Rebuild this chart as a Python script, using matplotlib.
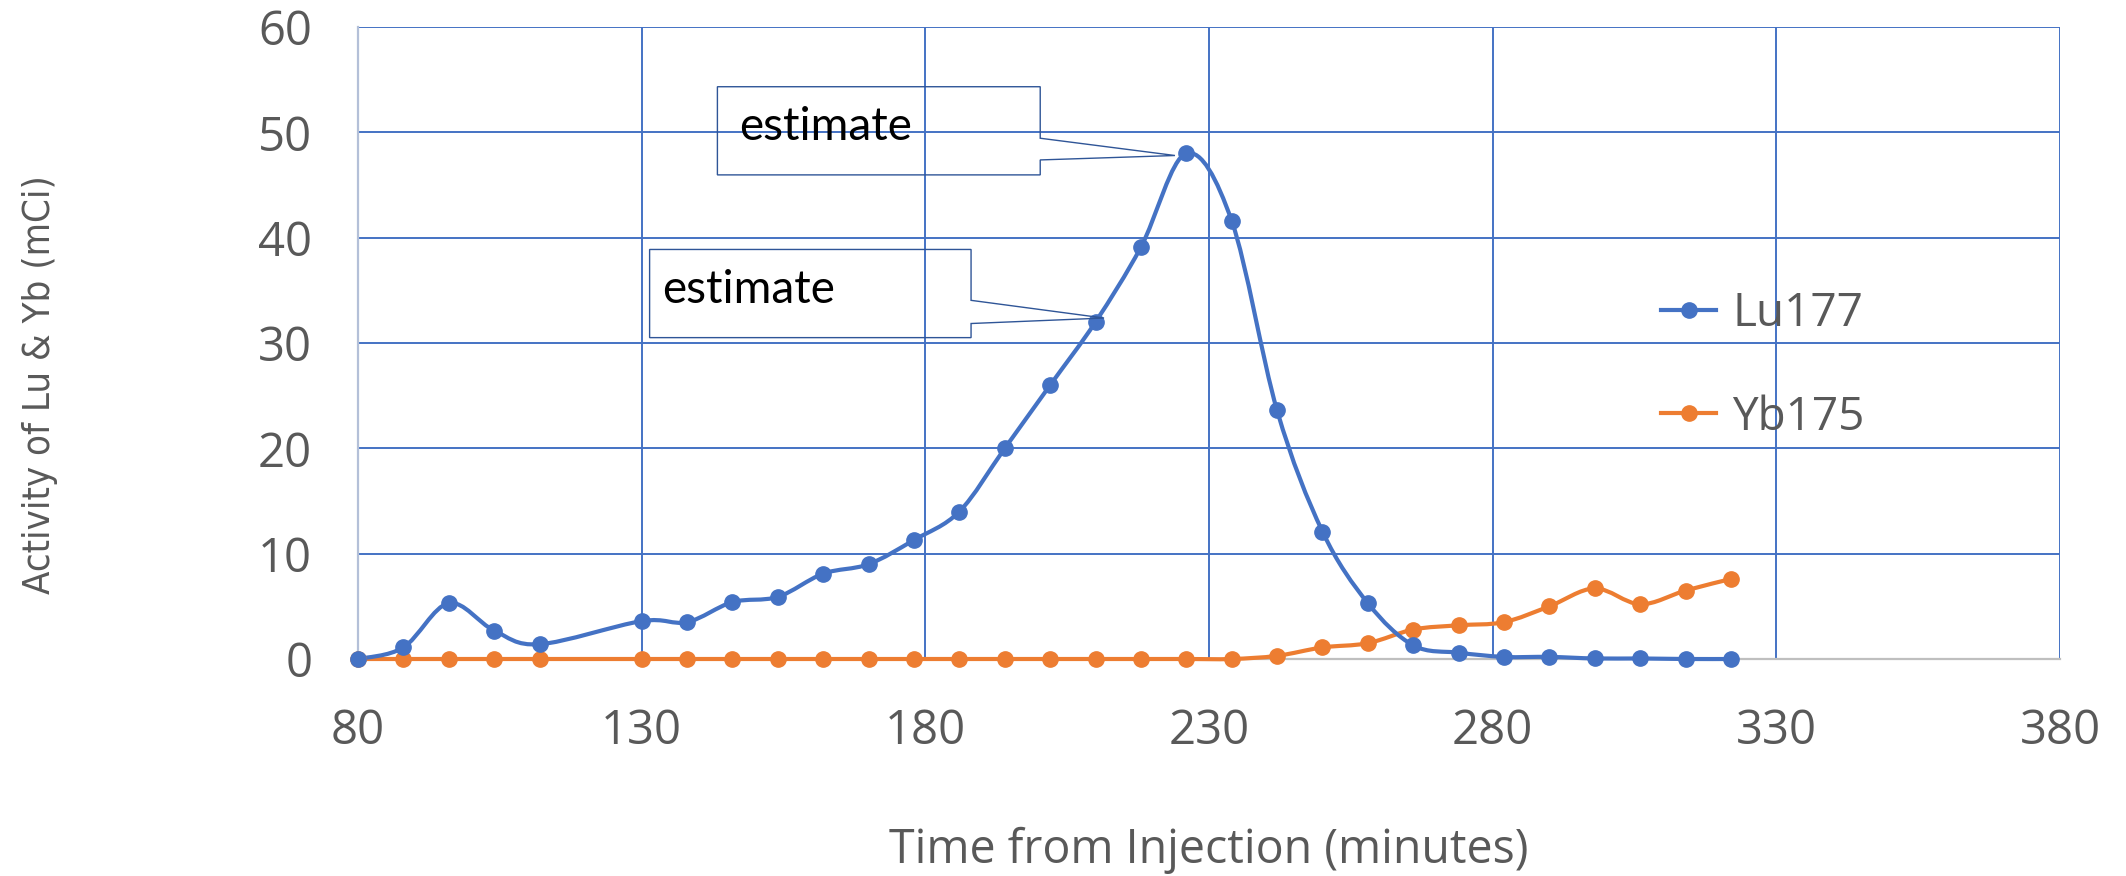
import matplotlib; matplotlib.use("Agg")
import matplotlib.pyplot as plt
from matplotlib import font_manager
from matplotlib.path import Path
from matplotlib.patches import PathPatch, Polygon
from matplotlib.lines import Line2D

# ── Data ───────────────────────────────────────────────────────────────────
time_min = [80, 88, 96, 104, 112, 130, 138, 146, 154, 162, 170, 178, 186, 194,
            202, 210, 218, 226, 234, 242, 250, 258, 266, 274, 282, 290, 298,
            306, 314, 322]
lu177 = [0.0, 1.1, 5.3, 2.7, 1.4, 3.6, 3.5, 5.4, 5.9, 8.1, 9.0, 11.3, 14.0,
         20.0, 26.0, 32.0, 39.1, 48.0, 41.6, 23.6, 12.1, 5.3, 1.3, 0.6, 0.2,
         0.2, 0.05, 0.05, 0.0, 0.0]
yb175 = [0.0, 0.0, 0.0, 0.0, 0.0, 0.0, 0.0, 0.0, 0.0, 0.0, 0.0, 0.0, 0.0,
         0.0, 0.0, 0.0, 0.0, 0.0, 0.0, 0.3, 1.1, 1.5, 2.8, 3.2, 3.5, 5.0,
         6.7, 5.2, 6.5, 7.6]
series_names = ["Lu177", "Yb175"]
x_ticks = [80, 130, 180, 230, 280, 330, 380]
y_ticks = [0, 10, 20, 30, 40, 50, 60]
callout_text = "estimate"
y_label = "Activity of Lu & Yb (mCi)"
x_label = "Time from Injection (minutes)"

BLUE   = "#4472C4"
ORANGE = "#ED7D31"
GREY   = "#595959"
BOX    = "#2F5597"
TICKFONT = ["Open Sans", "DejaVu Sans"]
YLAB_LEN = 418   # px, length of the y label in the reference


def _regular(f):
    w = f.weight if isinstance(f.weight, int) else {"normal": 400, "regular": 400,
                                                     "light": 300}.get(f.weight, 700)
    return 300 <= w <= 400 and f.style == "normal"

# narrow, regular-weight face for the y label if one is installed
narrow = [f for f in font_manager.fontManager.ttflist if _regular(f) and (
          any(k in f.name for k in ("Narrow", "Condensed"))
          or f.stretch in ("condensed", "semi-condensed", "extra-condensed"))]
if narrow:
    ylab_prop = font_manager.FontProperties(fname=narrow[0].fname, size=31)
else:
    ylab_prop = font_manager.FontProperties(family=["Roboto", "DejaVu Sans"],
                                            size=31)


def smooth_path(xs, ys):
    """Excel-style smoothed line: cubic Bezier through every point."""
    n = len(xs)
    verts = [(xs[0], ys[0])]
    codes = [Path.MOVETO]
    for i in range(n - 1):
        i0 = max(i - 1, 0); i3 = min(i + 2, n - 1)
        c1 = (xs[i] + (xs[i+1] - xs[i0]) / 6, ys[i] + (ys[i+1] - ys[i0]) / 6)
        c2 = (xs[i+1] - (xs[i3] - xs[i]) / 6, ys[i+1] - (ys[i3] - ys[i]) / 6)
        verts += [c1, c2, (xs[i+1], ys[i+1])]
        codes += [Path.CURVE4] * 3
    return Path(verts, codes)


def callout(ax, left, right, top, bottom, w_hi, w_lo, tip, text_xy):
    pts = [(left, top), (right, top), (right, w_hi), tip, (right, w_lo),
           (right, bottom), (left, bottom)]
    ax.add_patch(Polygon(pts, closed=True, fill=False, edgecolor=BOX,
                         linewidth=1.0, zorder=5))
    ax.text(*text_xy, callout_text, fontsize=33, family=["Lato", "DejaVu Sans"],
            color="black", va="center", ha="left", zorder=6)


fig = plt.figure(figsize=(21.26, 8.76), dpi=100)
ax = fig.add_axes([358/2126, 1-659/876, (2060-358)/2126, (659-27)/876])

ax.set_xlim(80, 380); ax.set_ylim(0, 60)
ax.set_xticks(x_ticks); ax.set_yticks(y_ticks)
ax.grid(True, color=BLUE, linewidth=1.4)
ax.set_axisbelow(True)
for s in ["top", "right"]:
    ax.spines[s].set_visible(False)
ax.spines["left"].set_color("#B4C0D8"); ax.spines["left"].set_linewidth(1.6)
ax.spines["bottom"].set_color("#BFBFBF"); ax.spines["bottom"].set_linewidth(1.6)
ax.spines["left"].set_zorder(2.5); ax.spines["bottom"].set_zorder(2.5)
ax.tick_params(length=0, labelsize=34, labelcolor=GREY)
ax.tick_params(axis="x", pad=35)
ax.tick_params(axis="y", pad=33)
for lab in ax.get_xticklabels() + ax.get_yticklabels():
    lab.set_family(TICKFONT)

for ys, col in [(lu177, BLUE), (yb175, ORANGE)][::-1]:
    ax.add_patch(PathPatch(smooth_path(time_min, ys), fill=False, edgecolor=col,
                           linewidth=3.0, capstyle="round", joinstyle="round",
                           zorder=3, clip_on=False))
    ax.plot(time_min, ys, "o", color=col, markersize=11, zorder=4,
            clip_on=False)

callout(ax, 143.35, 200.25, 54.33, 45.96, 49.44, 47.38, (224.0, 47.8),
        (147.2, 50.5))
callout(ax, 131.4, 188.06, 38.88, 30.51, 34.05, 31.85, (211.5, 32.37),
        (133.55, 35.0))

handles = [Line2D([], [], color=c, linewidth=3.0, marker="o", markersize=11)
           for c in (BLUE, ORANGE)]
leg = fig.legend(handles, series_names, loc="upper left",
                 bbox_to_anchor=(1620/2126, 1-250/876), frameon=False,
                 handlelength=1.2, handletextpad=0.35,
                 labelspacing=1.25, prop={"family": TICKFONT, "size": 33})
for t in leg.get_texts():
    t.set_color(GREY)

ylab = fig.text(40/2126, 1-385/876, y_label, rotation=90,
                ha="center", va="center", color=GREY, fontproperties=ylab_prop)
# fit the label to the reference length
ext = ylab.get_window_extent(renderer=fig.canvas.get_renderer())
ylab.set_fontsize(31 * YLAB_LEN / ext.height)

fig.text(1209/2126, 1-850/876, x_label, ha="center",
         va="center", fontsize=33.5, color=GREY, family=TICKFONT)

fig.savefig("out.png", dpi=100)
